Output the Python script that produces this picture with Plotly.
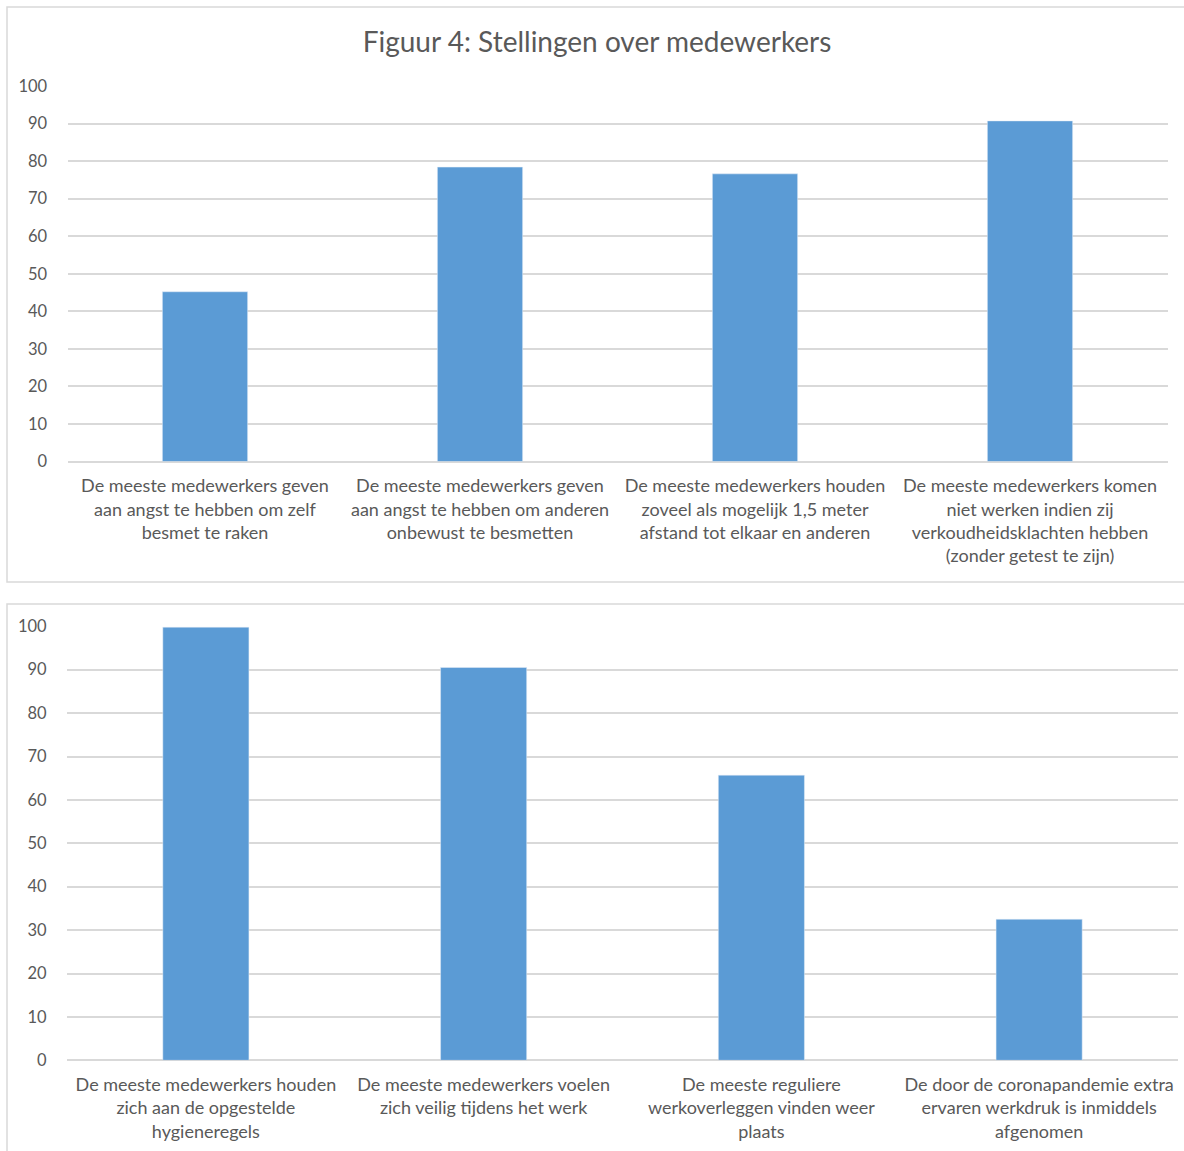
import plotly.graph_objects as go

W, H = 1184, 1151

title_text = "Figuur 4: Stellingen over medewerkers"

cats_top = [
    "De meeste medewerkers geven<br>aan angst te hebben om zelf<br>besmet te raken",
    "De meeste medewerkers geven<br>aan angst te hebben om anderen<br>onbewust te besmetten",
    "De meeste medewerkers houden<br>zoveel als mogelijk 1,5 meter<br>afstand tot elkaar en anderen",
    "De meeste medewerkers komen<br>niet werken indien zij<br>verkoudheidsklachten hebben<br>(zonder getest te zijn)",
]
vals_top = [45.2, 78.4, 76.6, 90.7]

cats_bottom = [
    "De meeste medewerkers houden<br>zich aan de opgestelde<br>hygieneregels",
    "De meeste medewerkers voelen<br>zich veilig tijdens het werk",
    "De meeste reguliere<br>werkoverleggen vinden weer<br>plaats",
    "De door de coronapandemie extra<br>ervaren werkdruk is inmiddels<br>afgenomen",
]
vals_bottom = [99.8, 90.5, 65.7, 32.5]

y_ticks = [0, 10, 20, 30, 40, 50, 60, 70, 80, 90, 100]

BAR = "#5B9BD5"
TXT = "#595959"
GRID = "#D9D9D9"
FONT = "Lato"

fig = go.Figure()
fig.add_trace(go.Bar(x=list(range(4)), y=vals_top, marker_color=BAR, xaxis="x", yaxis="y",
                     showlegend=False, hoverinfo="y"))
fig.add_trace(go.Bar(x=list(range(4)), y=vals_bottom, marker_color=BAR, xaxis="x2", yaxis="y2",
                     showlegend=False, hoverinfo="y"))

def px(x):
    return x / W

def py(y):
    return 1 - y / H

xcommon = dict(showgrid=False, zeroline=False, showline=False, range=[-0.5, 3.5],
               tickmode="array", tickvals=list(range(4)), automargin=False,
               tickfont=dict(family=FONT, size=18, color=TXT),
               ticks="outside", ticklen=8, tickcolor="rgba(0,0,0,0)")
ycommon = dict(range=[0, 100], tickmode="array", tickvals=y_ticks, automargin=False,
               showgrid=True, gridcolor=GRID, gridwidth=1.5,
               zeroline=True, zerolinecolor=GRID, zerolinewidth=1.5,
               showline=False, tickfont=dict(family=FONT, size=16.5, color=TXT),
               ticks="outside", ticklen=16, tickcolor="rgba(0,0,0,0)")

fig.update_layout(
    width=W, height=H,
    margin=dict(l=0, r=0, t=0, b=0, pad=0, autoexpand=False),
    paper_bgcolor="white", plot_bgcolor="white",
    bargap=0.69,
    title=dict(text=title_text, x=597 / W, xanchor="center", y=py(42), yanchor="middle",
               font=dict(family=FONT, size=28, color=TXT)),
    xaxis=dict(domain=[px(67.5), px(1167.5)], anchor="y", ticktext=cats_top, **xcommon),
    yaxis=dict(domain=[py(461.5), py(86)], anchor="x", **ycommon),
    xaxis2=dict(domain=[px(67), px(1178)], anchor="y2", ticktext=cats_bottom, **xcommon),
    yaxis2=dict(domain=[py(1060.3), py(626.3)], anchor="x2", **ycommon),
    shapes=[
        dict(type="rect", xref="paper", yref="paper", x0=px(7), x1=1.01, y0=py(582), y1=py(7),
             line=dict(color=GRID, width=1.5), fillcolor="rgba(0,0,0,0)", layer="below"),
        dict(type="rect", xref="paper", yref="paper", x0=px(7), x1=1.01, y0=-0.01, y1=py(604),
             line=dict(color=GRID, width=1.5), fillcolor="rgba(0,0,0,0)", layer="below"),
    ],
)

fig.write_html("out.html")
